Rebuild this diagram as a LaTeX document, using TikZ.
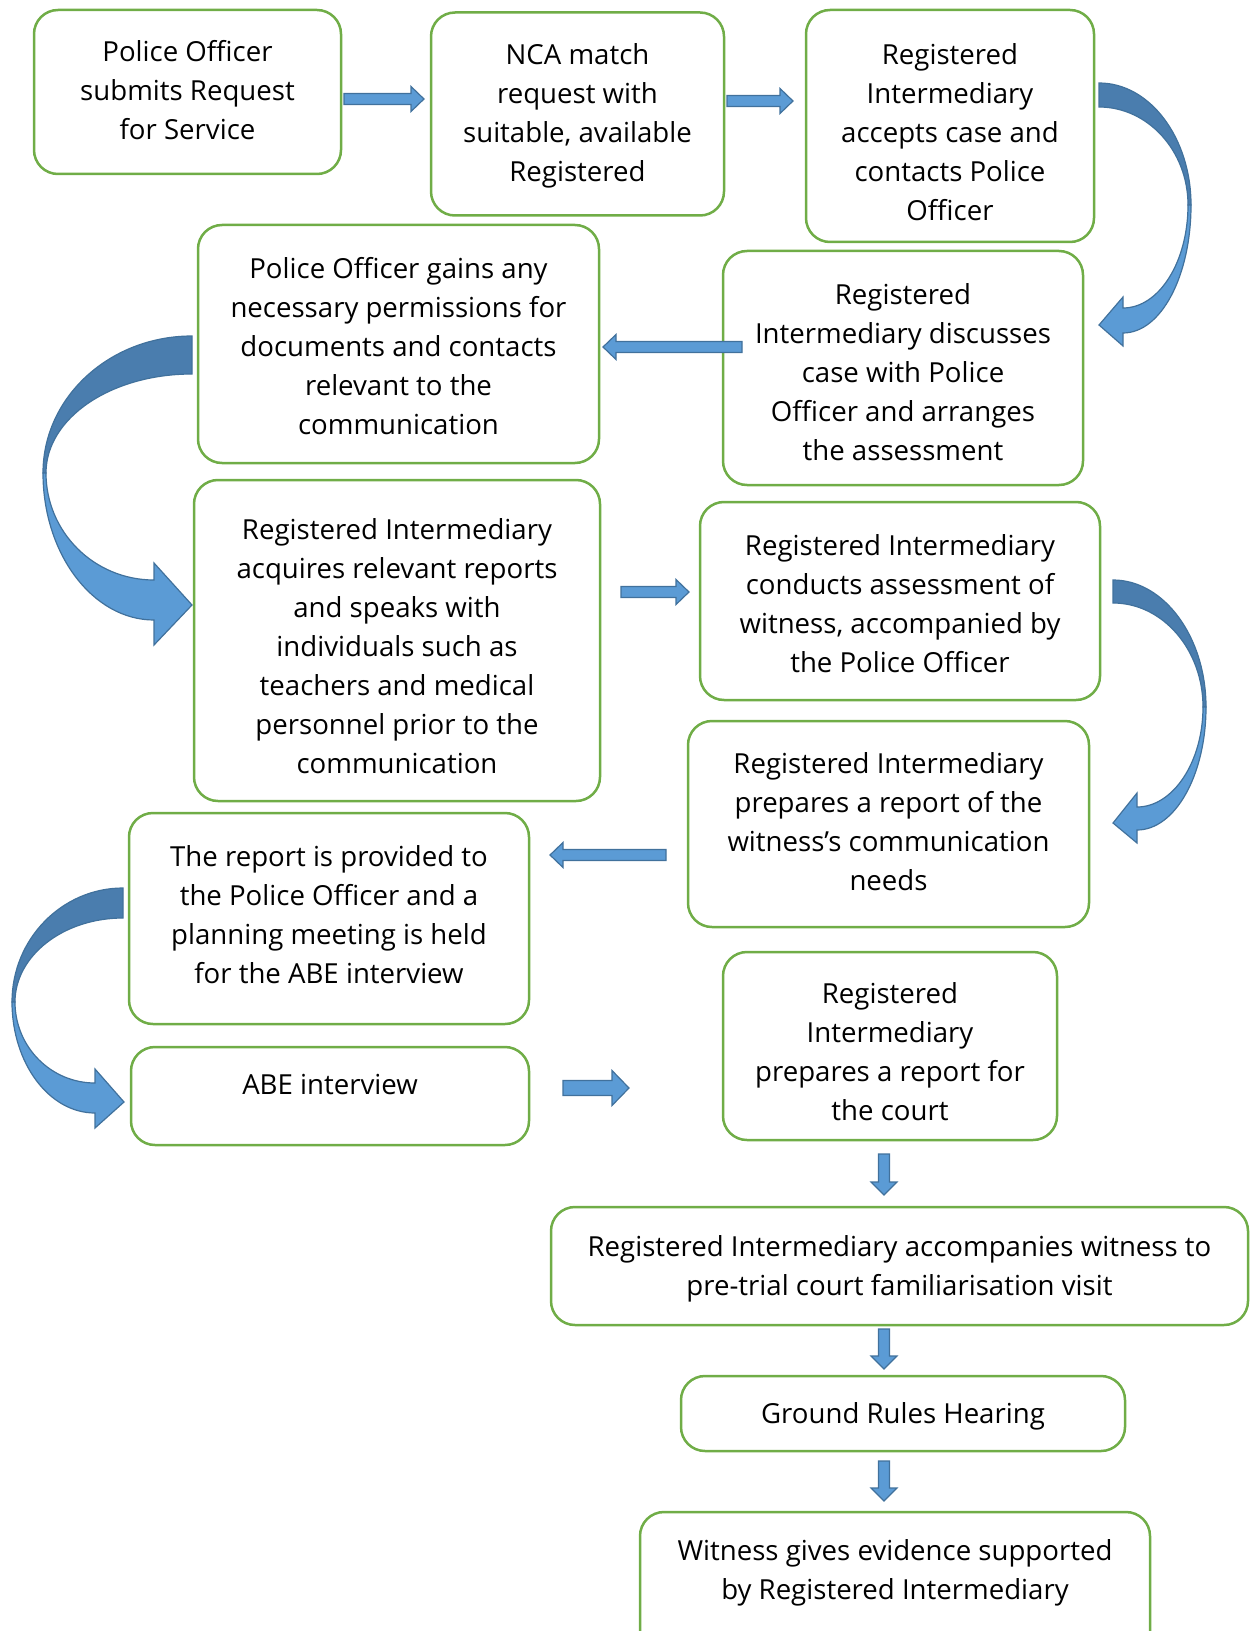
\documentclass[tikz,border=0pt]{standalone}
\usepackage{fontspec}
\setmainfont{Open Sans}
\usetikzlibrary{calc}
\definecolor{boxgreen}{HTML}{70AD47}
\definecolor{arrfill}{HTML}{5B9BD5}
\definecolor{arrline}{HTML}{41719C}
\definecolor{arrdark}{HTML}{4A7DAE}
\tikzset{
  box/.style={draw=boxgreen, line width=1.25pt, rounded corners=12pt, align=center,
    inner sep=0pt, outer sep=0pt, font=\fontsize{13.8}{19.5}\selectfont},
  wh/.style 2 args={minimum width=#1*0.5pt, minimum height=#2*0.5pt},
  barrow/.style={fill=arrfill, draw=arrline, line width=0.6pt, line join=miter},
  bdark/.style={fill=arrdark, draw=arrline, line width=0.6pt},
}
% #1 raise, #2 lines
\newcommand\boxtext[2]{\raisebox{#1}[\height][\depth]{\begin{tabular}{@{}c@{}}#2\end{tabular}}}
% #1 start, #2 end, #3 half shaft, #4 half head, #5 head length
\newcommand\blockarrow[5]{%
  \path ($(#2)!#5!(#1)$) coordinate (hb);
  \filldraw[barrow] ($(#1)!#3!90:(#2)$) -- ($(hb)!#3!90:(#2)$) -- ($(hb)!#4!90:(#2)$) -- (#2)
    -- ($(hb)!#4!-90:(#2)$) -- ($(hb)!#3!-90:(#2)$) -- ($(#1)!#3!-90:(#2)$) -- cycle;}
\begin{document}
\begin{tikzpicture}[x=0.5pt, y=-0.5pt]
\useasboundingbox (0,0) rectangle (1249,1631);

\node[box, wh={307}{164}] (b1) at (187.5,92) {\boxtext{-0.52pt}{Police Officer\\submits Request\\for Service}};
\node[box, wh={293}{203}] (b2) at (577.5,114) {\boxtext{-0.52pt}{NCA match\\request with\\suitable, available\\Registered}};
\node[box, wh={288}{232}] (b3) at (950,126) {\boxtext{-4.16pt}{Registered\\Intermediary\\accepts case and\\contacts Police\\Officer}};
\node[box, wh={401}{238}] (b4) at (398.5,344) {\boxtext{-2.6pt}{Police Officer gains any\\necessary permissions for\\documents and contacts\\relevant to the\\communication}};
\node[box, wh={360}{234}] (b5) at (903,368) {\boxtext{-3.12pt}{Registered\\Intermediary discusses\\case with Police\\Officer and arranges\\the assessment}};
\node[box, wh={406}{321}] (b6) at (397,640.5) {\boxtext{-4.16pt}{Registered Intermediary\\acquires relevant reports\\and speaks with\\individuals such as\\teachers and medical\\personnel prior to the\\communication}};
\node[box, wh={400}{198}] (b7) at (900,601) {\boxtext{-2.6pt}{Registered Intermediary\\conducts assessment of\\witness, accompanied by\\the Police Officer}};
\node[box, wh={401}{206}] (b8) at (888.5,824) {\boxtext{0pt}{Registered Intermediary\\prepares a report of the\\witness’s communication\\needs}};
\node[box, wh={400}{211}] (b9) at (329,918.5) {\boxtext{0.52pt}{The report is provided to\\the Police Officer and a\\planning meeting is held\\for the ABE interview}};
\node[box, wh={398}{98}] (b10) at (330,1096) {\boxtext{4.46pt}{ABE interview}};
\node[box, wh={334}{188}] (b11) at (890,1046) {\boxtext{-4.16pt}{Registered\\Intermediary\\prepares a report for\\the court}};
\node[box, wh={697}{118}] (b12) at (899.5,1266) {\boxtext{-1.04pt}{Registered Intermediary accompanies witness to\\pre-trial court familiarisation visit}};
\node[box, wh={444}{75}] (b13) at (903,1413.5) {\boxtext{-1.04pt}{Ground Rules Hearing}};
\node[box, wh={510}{168}] (b14) at (895,1596) {\boxtext{11.94pt}{Witness gives evidence supported\\by Registered Intermediary}};

% straight block arrows
\path ($(b1.east)+(3,7)$) coordinate (a1s) ($(b2.west)+(-7,-15)$) coordinate (a1e);
\path ($(b2.east)+(3,-13)$) coordinate (a2s) ($(b3.west)+(-13,-25)$) coordinate (a2e);
\path ($(b5.west)+(19,-21)$) coordinate (a3s) ($(b4.east)+(4,3)$) coordinate (a3e);
\path ($(b6.east)+(21,-48.5)$) coordinate (a4s) ($(b7.west)+(-11,-9)$) coordinate (a4e);
\path ($(b8.west)+(-22,31)$) coordinate (a5s) ($(b9.east)+(21,-63.5)$) coordinate (a5e);
\path ($(b10.east)+(34,-8)$) coordinate (a6s) ($(b11.west)+(-94,42)$) coordinate (a6e);
\path ($(b11.south)+(-6,14)$) coordinate (d1s) ($(b12.north)+(-15.5,-12)$) coordinate (d1e);
\path ($(b12.south)+(-15.5,4)$) coordinate (d2s) ($(b13.north)+(-19,-7)$) coordinate (d2e);
\path ($(b13.south)+(-19,10)$) coordinate (d3s) ($(b14.north)+(-11,-11)$) coordinate (d3e);

\blockarrow{a1s}{a1e}{2.75pt}{6.25pt}{6.5pt}
\blockarrow{a2s}{a2e}{2.75pt}{6.25pt}{6.5pt}
\blockarrow{a3s}{a3e}{2.75pt}{6.25pt}{6.5pt}
\blockarrow{a4s}{a4e}{2.75pt}{6.25pt}{6.5pt}
\blockarrow{a5s}{a5e}{2.75pt}{6.25pt}{6.5pt}
\blockarrow{a6s}{a6e}{3.75pt}{8.75pt}{8.5pt}
\blockarrow{d1s}{d1e}{2.75pt}{6.5pt}{6.5pt}
\blockarrow{d2s}{d2e}{2.75pt}{6.5pt}{6.5pt}
\blockarrow{d3s}{d3e}{2.75pt}{6.5pt}{6.5pt}

% curved arrow b3 -> b5
\filldraw[bdark] (1099,83) .. controls (1150,83) and (1191,138) .. (1191,205)
  -- (1188,205) .. controls (1188,151) and (1148,107) .. (1099,107) -- cycle;
\filldraw[barrow] (1191,205) .. controls (1191,276) and (1161,333) .. (1123,333)
  -- (1123,346) -- (1099,325) -- (1123,297) -- (1123,308)
  .. controls (1159,308) and (1188,262) .. (1188,205) -- cycle;

% curved arrow b7 -> b8
\filldraw[bdark] (1113,580) .. controls (1164,580) and (1206,637) .. (1206,707)
  -- (1203,707) .. controls (1203,650) and (1163,603) .. (1113,603) -- cycle;
\filldraw[barrow] (1206,707) .. controls (1206,775) and (1175,830) .. (1137,830)
  -- (1137,843) -- (1113,823) -- (1137,793) -- (1137,807)
  .. controls (1173,807) and (1203,762) .. (1203,707) -- cycle;

% curved arrow b4 -> b6
\filldraw[bdark] (192,336) .. controls (110,336) and (43,397) .. (43,473)
  -- (46,473) .. controls (46,418) and (111,374) .. (192,374) -- cycle;
\filldraw[barrow] (43,473) .. controls (43,554) and (93,620) .. (154,620)
  -- (154,645) -- (192,605) -- (154,563) -- (154,580)
  .. controls (94,580) and (46,532) .. (46,473) -- cycle;

% curved arrow b9 -> b10
\filldraw[bdark] (123,888) .. controls (62,888) and (12,939) .. (12,1002)
  -- (15,1002) .. controls (15,956) and (63,918) .. (123,918) -- cycle;
\filldraw[barrow] (12,1002) .. controls (12,1063) and (49,1113) .. (95,1113)
  -- (95,1128) -- (124,1102) -- (95,1069) -- (95,1083)
  .. controls (51,1083) and (15,1047) .. (15,1002) -- cycle;
\end{tikzpicture}
\end{document}
